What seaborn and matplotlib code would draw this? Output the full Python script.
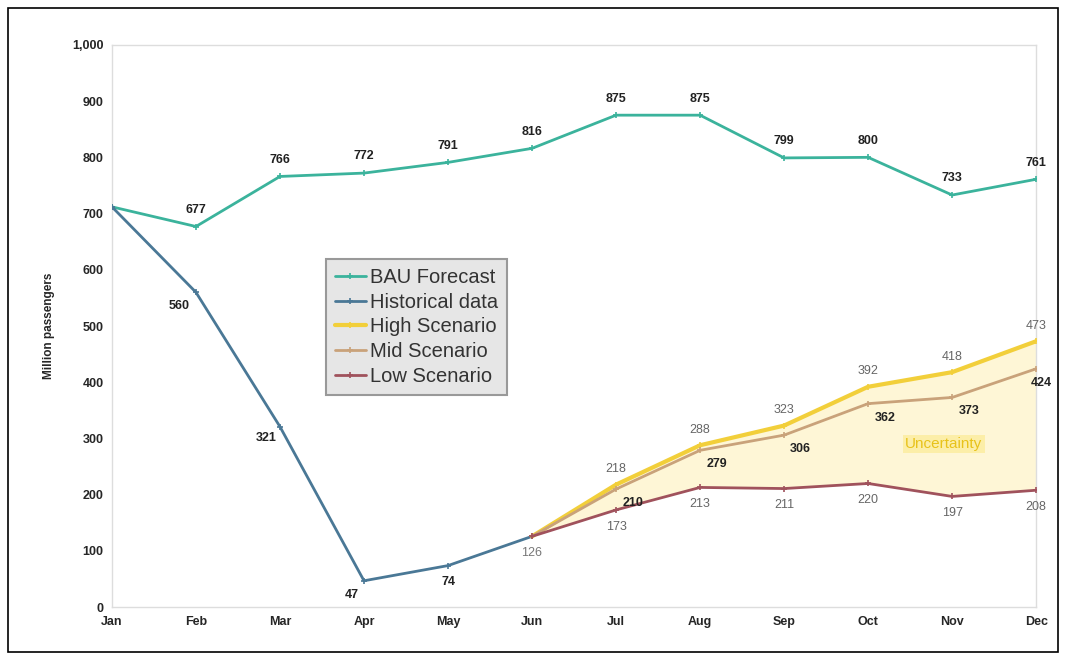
import matplotlib
matplotlib.use("Agg")
import matplotlib.pyplot as plt
import seaborn as sns
import pandas as pd
import numpy as np
from matplotlib.patches import Rectangle

months = ["Jan", "Feb", "Mar", "Apr", "May", "Jun", "Jul", "Aug", "Sep", "Oct", "Nov", "Dec"]
bau = [712, 677, 766, 772, 791, 816, 875, 875, 799, 800, 733, 761]
hist_months = ["Jan", "Feb", "Mar", "Apr", "May", "Jun"]
historical = [712, 560, 321, 47, 74, 126]
scen_months = ["Jun", "Jul", "Aug", "Sep", "Oct", "Nov", "Dec"]
high = [126, 218, 288, 323, 392, 418, 473]
mid = [126, 210, 279, 306, 362, 373, 424]
low = [126, 173, 213, 211, 220, 197, 208]

sns.set_theme(style="white")
plt.rcParams['font.family'] = ['Liberation Sans', 'DejaVu Sans']

fig = plt.figure(figsize=(10.66, 6.6), dpi=100)
ax = fig.add_axes([0.105, 0.080, 0.867, 0.852])

pos = {m: i for i, m in enumerate(months)}
c_bau = "#3bb39c"
c_hist = "#4a7896"
c_high = "#f2cf3a"
c_mid = "#c9a27a"
c_low = "#a0525c"

xs = [pos[m] for m in scen_months]
ax.fill_between(xs, low, high, color="#fef6d2", alpha=0.9, lw=0, zorder=1)

def draw(mlist, vals, color, label, lw=2.0):
    df = pd.DataFrame({"x": [pos[m] for m in mlist], "y": vals})
    sns.lineplot(data=df, x="x", y="y", ax=ax, color=color, lw=lw, marker="+",
                 markersize=5, markeredgewidth=1.2, markeredgecolor=color,
                 label=label, zorder=3)

draw(months, bau, c_bau, "BAU Forecast")
draw(hist_months, historical, c_hist, "Historical data")
draw(scen_months, high, c_high, "High Scenario", lw=3.0)
draw(scen_months, mid, c_mid, "Mid Scenario")
draw(scen_months, low, c_low, "Low Scenario")

def lab(x, y, txt, dx, dy, bold=True, color="#222222"):
    ax.annotate(txt, (x, y), xytext=(dx, dy), textcoords="offset points",
                ha="center", va="center", fontsize=9,
                fontweight="bold" if bold else "normal", color=color, zorder=5)

for i, v in enumerate(bau):
    if i == 0:
        continue
    lab(i, v, str(v), 0, 12)
hist_off = {1: (-12, -10), 2: (-10, -8), 3: (-9, -10), 4: (0, -12), 5: (0, -12)}
for i, v in enumerate(historical):
    if i == 0:
        continue
    dx, dy = hist_off[i]
    if i == 5:
        lab(i, v, str(v), dx, dy, bold=False, color="#777777")
    else:
        lab(i, v, str(v), dx, dy)
for m, v in zip(scen_months[1:], high[1:]):
    lab(pos[m], v, str(v), 0, 11, bold=False, color="#666666")
for m, v in zip(scen_months[1:], mid[1:]):
    dx = 12 if m != "Dec" else 4
    lab(pos[m], v, str(v), dx, -10)
for m, v in zip(scen_months[1:], low[1:]):
    lab(pos[m], v, str(v), 0, -12, bold=False, color="#666666")

ax.text(9.9, 290, "Uncertainty", ha="center", va="center", fontsize=11,
        color="#e8c21a", zorder=5,
        bbox=dict(boxstyle="square,pad=0.15", fc="#fbe98a", ec="none", alpha=0.6))

ax.set_xlim(0, 11)
ax.set_ylim(0, 1000)
ax.set_xticks(range(12))
ax.set_xticklabels(months, fontsize=9, fontweight="bold")
yt = list(range(0, 1001, 100))
ax.set_yticks(yt)
ax.set_yticklabels([f"{v:,}" for v in yt], fontsize=9, fontweight="bold")
ax.set_xlabel("")
ax.set_ylabel("Million passengers", fontsize=8.5, fontweight="bold", labelpad=12)
ax.tick_params(axis="both", length=0, pad=6)
for s in ax.spines.values():
    s.set_color("#dddddd")
    s.set_linewidth(1.0)

leg = ax.legend(loc="upper left", bbox_to_anchor=(0.221, 0.637), fontsize=14.5,
                frameon=True, fancybox=False, handlelength=1.5, handletextpad=0.2,
                labelspacing=0.28, borderpad=0.45)
leg.get_frame().set_facecolor("#e6e6e6")
leg.get_frame().set_edgecolor("#999999")
leg.get_frame().set_linewidth(1.5)
leg.get_frame().set_alpha(1)
for t in leg.get_texts():
    t.set_color("#333333")

fig.patches.append(Rectangle((8/1066, 1 - 652/660), 1050/1066, 644/660,
                             transform=fig.transFigure, fill=False, ec="black", lw=1.2))

fig.savefig("out.png", dpi=100)
